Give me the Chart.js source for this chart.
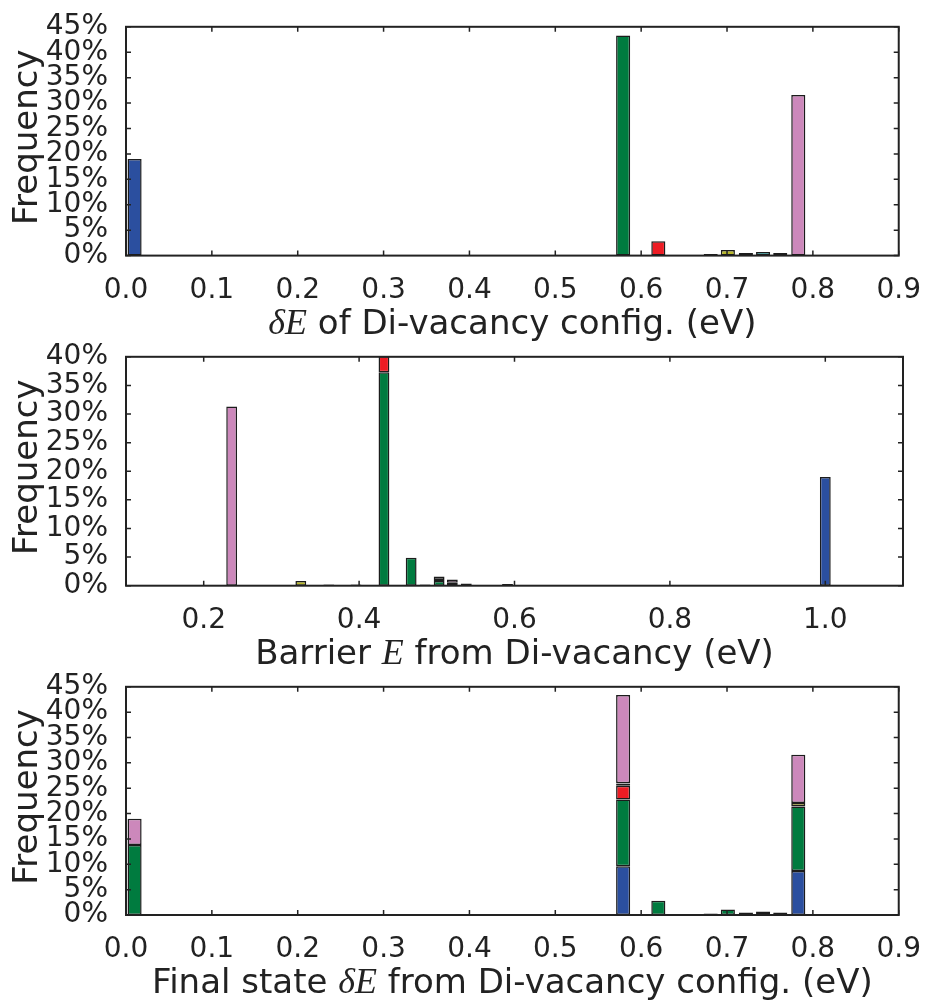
<!DOCTYPE html>
<html>
<head>
<meta charset="utf-8">
<script src="https://cdn.jsdelivr.net/npm/chart.js@4.4.1/dist/chart.umd.min.js"></script>
<style>
  html, body { margin: 0; padding: 0; background: #fff; }
  #wrap { position: relative; width: 931px; height: 1000px; }
  canvas { position: absolute; left: 0; }
</style>
</head>
<body>
<div id="wrap">
  <canvas id="c1" width="931" height="345" style="top:0px"></canvas>
  <canvas id="c2" width="931" height="345" style="top:330px"></canvas>
  <canvas id="c3" width="931" height="340" style="top:660px"></canvas>
</div>
<script>
// series (stack order, bottom to top)
const seriesColors = ['#2b4f9f', '#007b3f', '#ed1c24', '#b8b82a', '#17a1a3', '#3a3a3a', '#cc88bb'];

// tick labels
const cfgTicks = [0.0, 0.1, 0.2, 0.3, 0.4, 0.5, 0.6, 0.7, 0.8, 0.9];
const barTicks = [0.2, 0.4, 0.6, 0.8, 1.0];
const pct45 = [0, 5, 10, 15, 20, 25, 30, 35, 40, 45];
const pct40 = [0, 5, 10, 15, 20, 25, 30, 35, 40];

// panel 1: dE of di-vacancy config, bin centres (eV) and % per series
const cfgBins   = [0.010, 0.579, 0.620, 0.661, 0.681, 0.701, 0.722, 0.742, 0.762, 0.783, 0.884];
const cfgBlue   = [19.0, 0, 0, 0, 0, 0, 0, 0, 0, 0, 0];
const cfgGreen  = [0, 43.3, 0, 0, 0, 0, 0, 0, 0, 0, 0];
const cfgRed    = [0, 0, 2.8, 0, 0, 0, 0, 0, 0, 0, 0];
const cfgYellow = [0, 0, 0, 0, 0, 1.1, 0, 0, 0, 0, 0];
const cfgTeal   = [0, 0, 0, 0, 0, 0, 0.5, 0.7, 0, 0, 0];
const cfgDark   = [0, 0, 0, 0.1, 0.3, 0, 0, 0, 0, 0, 0.1];
const cfgPink   = [0, 0, 0, 0, 0, 0, 0, 0, 0.5, 31.6, 0];

// panel 2: barrier E
const barBins   = [0.236, 0.325, 0.361, 0.396, 0.432, 0.467, 0.485, 0.503, 0.520, 0.538, 0.591, 1.000];
const barBlue   = [0, 0, 0, 0, 0, 0, 0, 0, 0, 0, 0, 19.0];
const barGreen  = [0, 0, 0, 0, 37.3, 4.9, 0, 0.8, 0, 0, 0, 0];
const barRed    = [0, 0, 0, 0, 2.8, 0, 0, 0, 0, 0, 0, 0];
const barYellow = [0, 0.8, 0, 0, 0, 0, 0, 0, 0, 0, 0, 0];
const barTeal   = [0, 0, 0, 0, 0, 0, 0, 0.2, 0.5, 0, 0, 0];
const barDark   = [0, 0, 0.2, 0.2, 0, 0, 0.2, 0.6, 0, 0.4, 0.3, 0];
const barPink   = [31.3, 0, 0, 0, 0, 0, 0, 0, 0.6, 0, 0, 0];

// panel 3: final state dE
const finBins   = [0.010, 0.579, 0.620, 0.661, 0.681, 0.701, 0.722, 0.742, 0.762, 0.783, 0.884];
const finBlue   = [0, 9.6, 0, 0, 0, 0, 0, 0, 0, 8.7, 0];
const finGreen  = [13.8, 13.2, 2.8, 0, 0, 1.1, 0, 0, 0, 12.7, 0];
const finRed    = [0, 2.7, 0, 0, 0, 0, 0, 0, 0, 0, 0];
const finYellow = [0, 0.4, 0, 0, 0, 0, 0, 0, 0, 0.7, 0];
const finTeal   = [0, 0, 0, 0, 0, 0, 0, 0.4, 0, 0, 0];
const finDark   = [0, 0.1, 0, 0.1, 0.3, 0, 0.5, 0.3, 0.5, 0, 0.1];
const finPink   = [5.2, 17.4, 0, 0, 0, 0, 0, 0, 0, 9.5, 0];

const SANS = '"DejaVu Sans"';
const MATH = 'italic 36px "Liberation Serif"';
const TXT = '34px ' + SANS;

// frame, inward ticks and the axis titles (matplotlib look)
const frameTicks = {
    id: 'frameTicks',
    afterDraw(chart, args, opts) {
        const ctx = chart.ctx, a = chart.chartArea;
        const xs = chart.scales.x, ys = chart.scales.y;
        ctx.save();
        ctx.strokeStyle = '#222';
        ctx.lineWidth = 1.5;
        ctx.beginPath();
        xs.ticks.forEach((t, i) => {
            const px = xs.getPixelForValue(t.value);
            ctx.moveTo(px, a.bottom); ctx.lineTo(px, a.bottom - 5);
            ctx.moveTo(px, a.top); ctx.lineTo(px, a.top + 5);
        });
        ys.ticks.forEach((t, i) => {
            const py = ys.getPixelForValue(t.value);
            ctx.moveTo(a.left, py); ctx.lineTo(a.left + 5, py);
            ctx.moveTo(a.right, py); ctx.lineTo(a.right - 5, py);
        });
        ctx.stroke();
        ctx.lineWidth = 2;
        ctx.strokeRect(a.left, a.top, a.right - a.left, a.bottom - a.top);

        // x title from mixed font pieces
        ctx.fillStyle = '#222';
        ctx.textBaseline = 'alphabetic';
        ctx.textAlign = 'left';
        let total = 0;
        opts.xTitle.forEach(p => { ctx.font = p.f; total += ctx.measureText(p.t).width; });
        let x = (a.left + a.right) / 2 - total / 2;
        const y = a.bottom + 78;
        opts.xTitle.forEach(p => {
            ctx.font = p.f;
            ctx.fillText(p.t, x, y);
            x += ctx.measureText(p.t).width;
        });

        // y title
        ctx.translate(37, (a.top + a.bottom) / 2 - 4);
        ctx.rotate(-Math.PI / 2);
        ctx.textAlign = 'center';
        ctx.font = TXT;
        ctx.fillText('Frequency', 0, 0);
        ctx.restore();
    }
};

function buildHist(id, bins, series, xMin, xMax, xTicks, yMax, yTicks, xTitle, xHeight) {
    const datasets = series.map((vals, k) => ({
        data: bins.map((b, i) => ({ x: b, y: vals[i] ? vals[i] : null })),
        backgroundColor: seriesColors[k],
        borderColor: '#1c1c1c',
        borderWidth: 1.5,
        borderSkipped: false,
        categoryPercentage: 1.0,
        barPercentage: 0.82
    }));

    return new Chart(document.getElementById(id).getContext('2d'), {
        type: 'bar',
        data: { datasets: datasets },
        options: {
            responsive: false,
            animation: false,
            layout: { padding: { top: 16, right: 28, left: 0, bottom: 0 } },
            plugins: {
                legend: { display: false },
                tooltip: { enabled: false },
                frameTicks: { xTitle: xTitle }
            },
            scales: {
                x: {
                    type: 'linear',
                    stacked: true,
                    offset: false,
                    min: xMin,
                    max: xMax,
                    grid: { display: false, offset: false },
                    border: { display: false },
                    afterBuildTicks: s => { s.ticks = xTicks.map(v => ({ value: v })); },
                    ticks: {
                        autoSkip: false,
                        maxRotation: 0,
                        padding: 10,
                        color: '#222',
                        font: { family: SANS, size: 28 },
                        callback: v => Number(v).toFixed(1)
                    },
                    afterFit: s => { s.height = xHeight; }
                },
                y: {
                    stacked: true,
                    min: 0,
                    max: yMax,
                    grid: { display: false },
                    border: { display: false },
                    afterBuildTicks: s => { s.ticks = yTicks.map(v => ({ value: v })); },
                    ticks: {
                        autoSkip: false,
                        padding: 10,
                        color: '#222',
                        font: { family: SANS, size: 28 },
                        callback: v => v + '%'
                    },
                    afterFit: s => { s.width = 126; }
                }
            }
        },
        plugins: [frameTicks]
    });
}

buildHist('c1', cfgBins,
    [cfgBlue, cfgGreen, cfgRed, cfgYellow, cfgTeal, cfgDark, cfgPink],
    0, 0.9, cfgTicks, 45, pct45,
    [{ t: 'δE', f: MATH }, { t: ' of Di-vacancy config. (eV)', f: TXT }], 89.4);

buildHist('c2', barBins,
    [barBlue, barGreen, barRed, barYellow, barTeal, barDark, barPink],
    0.1, 1.1, barTicks, 40, pct40,
    [{ t: 'Barrier ', f: TXT }, { t: 'E', f: MATH }, { t: ' from Di-vacancy (eV)', f: TXT }], 89.3);

buildHist('c3', finBins,
    [finBlue, finGreen, finRed, finYellow, finTeal, finDark, finPink],
    0, 0.9, cfgTicks, 45, pct45,
    [{ t: 'Final state ', f: TXT }, { t: 'δE', f: MATH }, { t: ' from Di-vacancy config. (eV)', f: TXT }], 85);
</script>
</body>
</html>
